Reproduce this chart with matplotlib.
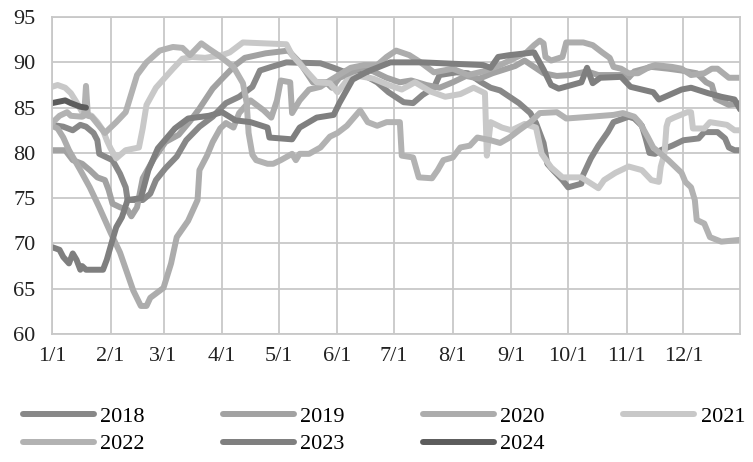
import matplotlib
matplotlib.use("Agg")
import matplotlib.pyplot as plt
import pandas as pd

# (month-day, value) pairs
s2018 = [("01-01", 83.1), ("01-07", 82.9), ("01-12", 82.5), ("01-16", 83.1), ("01-19", 82.9), ("01-23", 82.2),
         ("01-25", 81.4), ("01-26", 79.9), ("01-30", 79.5), ("02-02", 79.2), ("02-06", 77.7), ("02-09", 76.2),
         ("02-10", 74.8), ("02-18", 74.8), ("02-22", 75.5), ("02-25", 77.0), ("03-02", 78.3), ("03-08", 79.6),
         ("03-13", 81.4), ("03-20", 82.9), ("03-27", 84.0), ("04-03", 85.5), ("04-10", 86.2), ("04-17", 87.3),
         ("04-21", 89.1), ("04-27", 89.5), ("05-05", 90.0), ("05-23", 89.9), ("05-30", 89.4), ("06-04", 89.0),
         ("06-10", 89.0), ("06-15", 88.6), ("06-22", 87.8), ("06-28", 86.7), ("07-06", 85.6), ("07-11", 85.5),
         ("07-16", 86.4), ("07-22", 87.2), ("07-25", 88.6), ("08-03", 88.9), ("08-09", 88.8), ("08-16", 87.8),
         ("08-21", 87.2), ("08-26", 86.9), ("08-31", 86.2), ("09-05", 85.5), ("09-11", 84.4), ("09-14", 83.3),
         ("09-18", 81.1), ("09-20", 78.8), ("09-23", 78.1), ("09-28", 77.0), ("10-01", 76.2), ("10-08", 76.6),
         ("10-09", 77.6), ("10-13", 79.4), ("10-17", 80.8), ("10-22", 82.3), ("10-25", 83.4), ("11-02", 84.0),
         ("11-05", 83.8), ("11-09", 83.0), ("11-11", 81.6), ("11-13", 80.0), ("11-16", 79.9), ("11-19", 80.3),
         ("11-25", 80.8), ("12-01", 81.4), ("12-09", 81.6), ("12-12", 82.3), ("12-19", 82.3), ("12-23", 81.6),
         ("12-25", 80.6), ("12-28", 80.3), ("12-31", 80.3)]

s2019 = [("01-01", 80.3), ("01-08", 80.3), ("01-12", 79.2), ("01-17", 78.8), ("01-21", 78.1), ("01-25", 77.3),
         ("01-29", 77.0), ("01-31", 75.9), ("02-02", 74.4), ("02-06", 74.0), ("02-10", 73.7), ("02-12", 73.0),
         ("02-15", 74.0), ("02-18", 77.2), ("02-24", 79.4), ("03-02", 81.2), ("03-09", 82.0), ("03-15", 83.5),
         ("03-20", 84.9), ("03-27", 87.1), ("04-01", 88.2), ("04-08", 89.7), ("04-13", 90.5), ("04-24", 91.0),
         ("05-06", 91.3), ("05-12", 90.0), ("05-19", 87.8), ("05-26", 87.8), ("05-29", 87.2), ("06-02", 88.3),
         ("06-06", 88.6), ("06-13", 89.4), ("06-20", 89.0), ("06-27", 88.3), ("07-04", 87.8), ("07-10", 88.0),
         ("07-18", 87.5), ("07-25", 87.2), ("08-01", 87.8), ("08-08", 88.5), ("08-15", 88.2), ("08-22", 88.8),
         ("08-28", 89.2), ("09-03", 89.6), ("09-08", 90.2), ("09-13", 89.5), ("09-18", 88.8), ("09-25", 88.5),
         ("10-02", 88.6), ("10-11", 89.0), ("10-17", 88.6), ("10-29", 88.6), ("11-02", 88.3), ("11-05", 89.0),
         ("11-14", 89.5), ("11-23", 89.3), ("11-30", 89.1), ("12-08", 88.8), ("12-13", 87.8), ("12-16", 87.5),
         ("12-18", 86.0), ("12-25", 85.3), ("12-31", 85.5)]

s2020 = [("01-01", 83.0), ("01-04", 82.7), ("01-07", 81.7), ("01-10", 80.3), ("01-16", 78.1), ("01-21", 76.2),
         ("01-26", 74.0), ("02-01", 71.2), ("02-06", 69.0), ("02-13", 64.8), ("02-17", 63.1), ("02-20", 63.1),
         ("02-22", 64.0), ("03-01", 65.1), ("03-05", 67.8), ("03-08", 70.7), ("03-14", 72.5), ("03-19", 74.8),
         ("03-20", 78.1), ("03-24", 79.7), ("03-27", 81.2), ("03-31", 82.7), ("04-03", 83.3), ("04-07", 82.8),
         ("04-10", 84.4), ("04-16", 85.8), ("04-23", 84.7), ("04-27", 83.9), ("04-30", 85.8), ("05-02", 88.0),
         ("05-07", 87.8), ("05-08", 84.4), ("05-12", 85.8), ("05-17", 87.0), ("05-23", 87.3), ("05-28", 88.0),
         ("06-08", 89.4), ("06-15", 89.7), ("06-22", 89.7), ("06-27", 90.6), ("07-02", 91.3), ("07-09", 90.8),
         ("07-15", 90.0), ("07-22", 88.9), ("08-01", 89.3), ("08-09", 88.6), ("08-17", 89.0), ("08-26", 89.7),
         ("09-09", 91.1), ("09-13", 91.9), ("09-16", 92.4), ("09-18", 92.1), ("09-19", 90.6), ("09-22", 90.2),
         ("09-28", 90.6), ("09-30", 92.2), ("10-09", 92.2), ("10-14", 91.9), ("10-19", 91.1), ("10-23", 90.5),
         ("10-25", 89.5), ("10-29", 89.3), ("11-02", 88.8), ("11-07", 88.8), ("11-13", 89.5), ("11-16", 89.7),
         ("11-25", 89.5), ("11-30", 89.3), ("12-05", 88.6), ("12-12", 88.8), ("12-16", 89.3), ("12-19", 89.3),
         ("12-25", 88.3), ("12-31", 88.3)]

s2021 = [("01-01", 87.3), ("01-04", 87.5), ("01-08", 87.2), ("01-11", 86.6), ("01-14", 85.6), ("01-17", 84.5),
         ("01-22", 84.1), ("01-25", 83.4), ("01-28", 82.5), ("01-30", 81.4), ("02-01", 80.5), ("02-04", 79.4),
         ("02-09", 80.3), ("02-16", 80.6), ("02-18", 82.7), ("02-20", 85.3), ("02-25", 87.2), ("03-06", 89.3),
         ("03-11", 90.4), ("03-16", 90.6), ("03-23", 90.5), ("04-01", 90.8), ("04-05", 91.1), ("04-12", 92.2),
         ("05-05", 92.0), ("05-08", 90.8), ("05-14", 89.4), ("05-21", 87.8), ("05-28", 87.7), ("06-01", 86.7),
         ("06-06", 88.0), ("06-12", 88.5), ("06-20", 88.2), ("06-28", 87.5), ("07-05", 87.0), ("07-12", 87.8),
         ("07-20", 86.8), ("07-28", 86.2), ("08-05", 86.5), ("08-12", 87.2), ("08-18", 86.6), ("08-19", 79.7),
         ("08-21", 83.4), ("08-27", 82.8), ("09-01", 82.5), ("09-08", 83.2), ("09-14", 82.8), ("09-17", 79.9),
         ("09-22", 78.4), ("09-28", 77.3), ("10-08", 77.3), ("10-17", 76.1), ("10-20", 77.0), ("10-26", 77.8),
         ("11-02", 78.5), ("11-09", 78.1), ("11-14", 77.0), ("11-18", 76.8), ("11-19", 78.5), ("11-21", 80.0),
         ("11-22", 82.9), ("11-23", 83.6), ("11-26", 83.9), ("12-03", 84.5), ("12-05", 84.5), ("12-06", 82.7),
         ("12-12", 82.7), ("12-15", 83.4), ("12-24", 83.1), ("12-28", 82.5), ("12-31", 82.5)]

s2022 = [("01-01", 83.3), ("01-05", 84.1), ("01-09", 84.5), ("01-11", 84.1), ("01-17", 84.0), ("01-18", 84.1),
         ("01-19", 87.4), ("01-20", 84.1), ("01-22", 84.0), ("01-27", 82.7), ("01-29", 82.2), ("02-04", 83.4),
         ("02-09", 84.5), ("02-15", 88.6), ("02-20", 90.0), ("02-27", 91.3), ("03-06", 91.7), ("03-11", 91.6),
         ("03-15", 90.8), ("03-21", 92.1), ("03-25", 91.5), ("03-30", 90.8), ("04-07", 89.5), ("04-12", 87.7),
         ("04-14", 85.5), ("04-15", 82.2), ("04-17", 79.8), ("04-19", 79.2), ("04-25", 78.8), ("04-28", 78.8),
         ("05-02", 79.2), ("05-08", 79.9), ("05-10", 79.2), ("05-12", 79.9), ("05-17", 79.9), ("05-23", 80.6),
         ("05-28", 81.8), ("06-01", 82.2), ("06-06", 83.0), ("06-13", 84.7), ("06-17", 83.4), ("06-22", 83.0),
         ("06-27", 83.4), ("07-04", 83.4), ("07-05", 79.7), ("07-11", 79.5), ("07-14", 77.3), ("07-21", 77.2),
         ("07-24", 78.1), ("07-27", 79.2), ("08-01", 79.5), ("08-05", 80.6), ("08-10", 80.8), ("08-14", 81.7),
         ("08-21", 81.4), ("08-26", 81.1), ("08-31", 81.7), ("09-05", 82.5), ("09-11", 83.4), ("09-16", 84.4),
         ("09-25", 84.5), ("09-30", 83.8), ("10-13", 84.0), ("10-25", 84.2), ("10-30", 84.4), ("11-05", 84.0),
         ("11-08", 83.3), ("11-12", 81.8), ("11-15", 80.6), ("11-19", 79.9), ("11-23", 79.2), ("11-30", 77.8),
         ("12-02", 76.8), ("12-05", 76.2), ("12-07", 74.8), ("12-08", 72.6), ("12-12", 72.2), ("12-15", 70.7),
         ("12-21", 70.2), ("12-31", 70.4)]

s2023 = [("01-01", 69.6), ("01-05", 69.3), ("01-07", 68.5), ("01-10", 67.8), ("01-12", 68.9), ("01-14", 68.2),
         ("01-16", 67.1), ("01-17", 67.5), ("01-19", 67.1), ("01-28", 67.1), ("01-30", 68.2), ("02-02", 70.4),
         ("02-04", 71.8), ("02-07", 72.9), ("02-10", 74.8), ("02-17", 75.0), ("02-21", 78.1), ("02-26", 80.5),
         ("03-07", 82.7), ("03-14", 83.8), ("03-25", 84.1), ("04-01", 84.5), ("04-08", 83.6), ("04-16", 83.4),
         ("04-25", 82.8), ("04-26", 81.7), ("05-08", 81.5), ("05-12", 82.8), ("05-21", 83.9), ("05-30", 84.2),
         ("06-02", 85.5), ("06-09", 88.1), ("06-17", 89.0), ("06-29", 90.0), ("07-16", 90.0), ("08-17", 89.7),
         ("08-21", 89.4), ("08-25", 90.6), ("08-31", 90.8), ("09-13", 91.1), ("09-18", 89.2), ("09-22", 87.5),
         ("09-26", 87.1), ("10-08", 87.8), ("10-11", 89.4), ("10-14", 87.7), ("10-18", 88.3), ("10-29", 88.4),
         ("11-03", 87.3), ("11-15", 86.7), ("11-18", 85.9), ("11-30", 87.0), ("12-05", 87.2), ("12-14", 86.6),
         ("12-21", 86.2), ("12-28", 85.9), ("12-31", 84.8)]

s2024 = [("01-01", 85.5), ("01-08", 85.8), ("01-11", 85.5), ("01-16", 85.1), ("01-19", 85.0)]

years = ["2018", "2019", "2020", "2021", "2022", "2023", "2024"]
series = [s2018, s2019, s2020, s2021, s2022, s2023, s2024]
colors = ["#888888", "#a2a2a2", "#acacac", "#c8c8c8", "#b2b2b2", "#7f7f7f", "#5c5c5c"]

month_labels = [f"{m}/1" for m in range(1, 13)]

plt.rcParams['font.family'] = ['Liberation Serif', 'DejaVu Serif']

fig = plt.figure(figsize=(7.53, 4.62), dpi=100)
ax = fig.add_axes([0.069, 0.277, 0.914, 0.686])

lines = {}
for yr, data, c in zip(years, series, colors):
    x = pd.to_datetime(["2019-" + d for d, _ in data])
    y = [v for _, v in data]
    ln, = ax.plot(x, y, color=c, lw=4.3, label=yr,
                  solid_joinstyle='round', solid_capstyle='round')
    lines[yr] = ln

ax.set_xlim(pd.Timestamp("2019-01-01"), pd.Timestamp("2019-12-31"))
ax.set_ylim(60, 95)
ax.set_yticks(range(60, 96, 5))
ax.set_xticks(pd.date_range("2019-01-01", periods=12, freq="MS"))
ax.set_xticklabels(month_labels)
ax.tick_params(length=0, labelsize=16, colors='#222222')
ax.tick_params(axis='y', pad=12)
ax.tick_params(axis='x', pad=9)
ax.grid(True, color='#c8c8c8', lw=1.3)
ax.set_axisbelow(True)
for sp in ax.spines.values():
    sp.set_color('#c8c8c8')
    sp.set_linewidth(1.3)

# row-wise legend order for a column-filled 4-column legend
order = ["2018", "2022", "2019", "2023", "2020", "2024", "2021"]
fig.legend([lines[k] for k in order], order, ncol=4, loc='upper left',
           bbox_to_anchor=(0.03, 0.12), frameon=False, fontsize=16,
           handlelength=3.2, handletextpad=0.3, columnspacing=3.5,
           labelspacing=0.3, borderpad=0, borderaxespad=0)

fig.savefig("out.png", dpi=100)
